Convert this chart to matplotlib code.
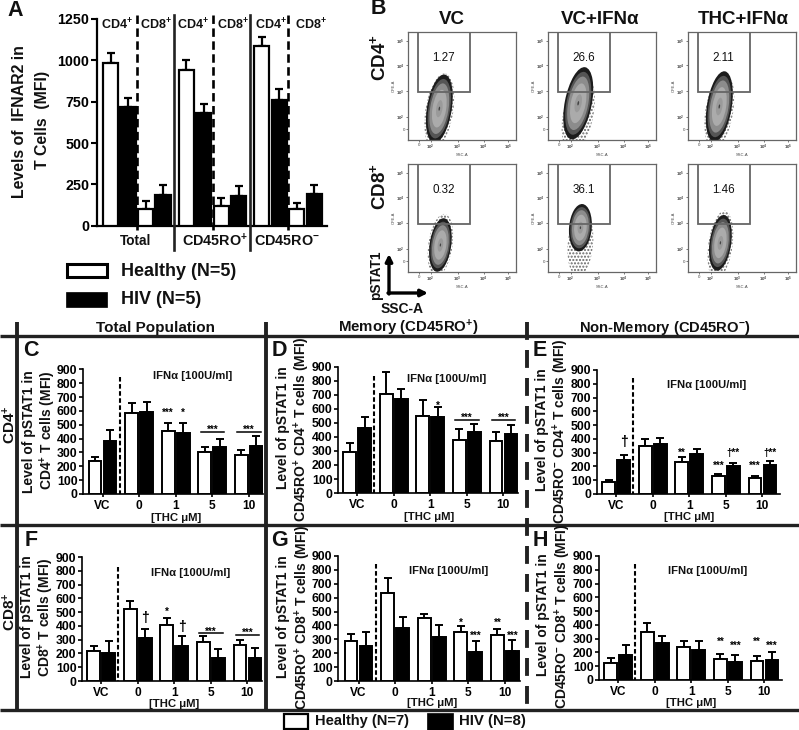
#!/usr/bin/env python3
"""IFNAR2 levels and pSTAT1 responses in T cells: healthy vs HIV, with THC dose series."""
import matplotlib
matplotlib.use("Agg")
import matplotlib.pyplot as plt
from matplotlib.patches import Ellipse, Rectangle
import numpy as np

plt.rcParams["font.family"] = ["Liberation Sans", "DejaVu Sans"]
plt.rcParams["font.weight"] = "bold"
plt.rcParams["mathtext.fontset"] = "custom"
plt.rcParams["mathtext.bf"] = "Liberation Sans:bold"
plt.rcParams["mathtext.rm"] = "Liberation Sans:bold"
plt.rcParams["mathtext.default"] = "bf"

W, H = 799, 730
INK = "#111111"
LINE = "#222222"

# panel A: IFNAR2 MFI, order is CD4/CD8 for Total, CD45RO+, CD45RO-
a_healthy = [985, 100, 940, 120, 1085, 100]
a_healthy_top = [1045, 150, 1005, 170, 1140, 135]
a_hiv = [715, 185, 680, 180, 760, 190]
a_hiv_top = [770, 245, 735, 240, 825, 245]
a_ticks = [0, 250, 500, 750, 1000, 1250]

thc_labels = ["VC", "0", "1", "5", "10"]
mfi_ticks = [0, 100, 200, 300, 400, 500, 600, 700, 800, 900]

# panels C-H: pSTAT1 MFI and the top of each error bar
c_healthy = [235, 585, 455, 305, 285]
c_healthy_top = [270, 660, 515, 340, 315]
c_hiv = [380, 590, 440, 340, 350]
c_hiv_top = [460, 665, 515, 400, 415]

d_healthy = [290, 705, 548, 381, 369]
d_healthy_top = [360, 865, 667, 457, 433]
d_hiv = [465, 674, 540, 435, 424]
d_hiv_top = [545, 740, 612, 493, 488]

e_healthy = [90, 345, 235, 128, 118]
e_healthy_top = [105, 400, 265, 148, 130]
e_hiv = [250, 365, 290, 205, 210]
e_hiv_top = [285, 405, 330, 225, 238]

f_healthy = [220, 520, 410, 285, 260]
f_healthy_top = [255, 580, 460, 325, 300]
f_hiv = [205, 315, 255, 165, 170]
f_hiv_top = [290, 380, 330, 235, 240]

g_healthy = [285, 635, 455, 354, 330]
g_healthy_top = [340, 740, 486, 395, 375]
g_hiv = [255, 383, 318, 206, 218]
g_hiv_top = [350, 462, 404, 287, 294]

h_healthy = [120, 345, 240, 150, 135]
h_healthy_top = [160, 415, 285, 190, 175]
h_hiv = [180, 270, 215, 130, 145]
h_hiv_top = [255, 320, 280, 185, 200]

# significance marks: (dose group, side, MFI height, text)
c_marks = [(2, -1, 585, "***"), (2, 1, 585, "*"), (3, 0, 465, "***"), (4, 0, 465, "***")]
d_marks = [(2, 1, 625, "*"), (3, 0, 540, "***"), (4, 0, 540, "***")]
e_marks = [(0, 1, 380, "†"), (2, -1, 300, "**"), (3, -1, 205, "***"), (3, 1, 300, "†**"),
           (4, -1, 205, "***"), (4, 1, 300, "†**")]
f_marks = [(1, 1, 455, "†"), (2, -1, 505, "*"), (2, 1, 390, "†"), (3, 0, 360, "***"), (4, 0, 350, "***")]
g_marks = [(3, -1, 420, "*"), (3, 1, 325, "***"), (4, -1, 420, "**"), (4, 1, 325, "***")]
h_marks = [(3, -1, 280, "**"), (3, 1, 245, "***"), (4, -1, 275, "**"), (4, 1, 245, "***")]

c_brackets = [(3, 450), (4, 450)]
d_brackets = [(3, 523), (4, 523)]
f_brackets = [(3, 345), (4, 335)]
g_brackets, e_brackets, h_brackets = [], [], []

# panel B: gate percentages and the event cloud shape, row by row
gate_pct = ["1.27", "26.6", "2.11", "0.32", "36.1", "1.46"]
blob_cx = [0.29, 0.28, 0.29, 0.30, 0.30, 0.30]
blob_cy = [0.29, 0.34, 0.31, 0.25, 0.41, 0.27]
blob_w = [0.23, 0.25, 0.23, 0.20, 0.21, 0.20]
blob_h = [0.64, 0.68, 0.66, 0.50, 0.44, 0.52]
blob_tilt = [-9, -11, -9, -8, -5, -8]
tail_cy = [0.27, 0.24, 0.27, 0.25, 0.26, 0.25]
tail_h = [0.70, 0.72, 0.70, 0.58, 0.60, 0.64]
flow_pos = [0.10, 0.21, 0.46, 0.70, 0.93]
flow_labels = ["0", "$10^2$", "$10^3$", "$10^4$", "$10^5$"]

fig = plt.figure(figsize=(W / 100, H / 100), dpi=100, facecolor="white")


def px_axes(left, top, right, bottom, **kw):
    return fig.add_axes([left / W, 1 - bottom / H, (right - left) / W, (bottom - top) / H], **kw)


def pair_bars(ax, x, off, width, healthy, healthy_top, hiv, hiv_top, lw=1.4):
    x = np.asarray(x, dtype=float)
    for xs, vals, tops, col in ((x - off, healthy, healthy_top, "white"), (x + off, hiv, hiv_top, "black")):
        vals, tops = np.asarray(vals), np.asarray(tops)
        ax.errorbar(xs, vals, yerr=[np.zeros(len(vals)), tops - vals], fmt="none", ecolor="black",
                    elinewidth=lw, capsize=3.2, capthick=lw, zorder=2)
        ax.bar(xs, vals, width, color=col, edgecolor="black", linewidth=lw, zorder=3)


# ---- panel A ----
axa = px_axes(97, 19, 327, 225.7)
slot = 17.5
step = 75.6 / slot
# each population holds a CD4 pair and then a CD8 pair
xa = np.array([g * step + s for g in range(3) for s in (0.0, 2.0)])
pair_bars(axa, xa, 0.5, 0.86, a_healthy, a_healthy_top, a_hiv, a_hiv_top, lw=1.6)
axa.set_xlim(-13.5 / slot - 0.5, (327 - 97) / slot - 13.5 / slot - 0.5)
axa.set_ylim(0, 1250)
axa.set_yticks(a_ticks)
axa.set_xticks([])
axa.tick_params(axis="y", labelsize=10.3, width=1.5, length=4, pad=1.5)
axa.spines[["top", "right"]].set_visible(False)
axa.spines[["left", "bottom"]].set_linewidth(1.6)
axa.patch.set_alpha(0)

# ---- panel B ----
flow_left = [408, 548, 688]
flow_top = [32, 164]
for r, top in enumerate(flow_top):
    for c, left in enumerate(flow_left):
        i = r * 3 + c
        ax = px_axes(left, top, left + 108, top + 108)
        ax.set_xlim(0, 1)
        ax.set_ylim(0, 1)
        for s in ax.spines.values():
            s.set_linewidth(0.9)
            s.set_color("#666666")
        ax.set_xticks(flow_pos)
        ax.set_xticklabels(flow_labels, fontsize=3.2, color="#444444", fontweight="normal")
        ax.set_yticks([0.10, 0.21, 0.45, 0.69, 0.92])
        ax.set_yticklabels(flow_labels, fontsize=3.2, color="#444444", fontweight="normal")
        ax.tick_params(width=0.5, length=1.5, pad=0.8, colors="#444444")
        ax.set_xlabel("SSC-A", fontsize=3, labelpad=0.5, color="#444444", fontweight="normal")
        ax.set_ylabel("CFE-A", fontsize=3, labelpad=0.5, color="#444444", fontweight="normal")
        ax.add_patch(Rectangle((0.09, 0.44), 0.48, 0.60, fill=False, edgecolor="#666666", linewidth=1.3, zorder=6))
        ax.text(0.33, 0.755, gate_pct[i], ha="center", va="center", fontsize=8.4, color=INK,
                fontweight="normal", zorder=7)
        cx, cy, bw, bh, tilt = blob_cx[i], blob_cy[i], blob_w[i], blob_h[i], blob_tilt[i]
        # sparse events round the cloud
        ax.add_patch(Ellipse((cx, tail_cy[i]), bw * 1.12, tail_h[i], angle=tilt, facecolor="none",
                             edgecolor="#666666", hatch=".....", linewidth=0, zorder=1))
        for scale, shade in zip((1.0, 0.87, 0.74, 0.55, 0.25, 0.06),
                                ("#1c1c1c", "#555555", "#8c8c8c", "#ababab", "#9a9a9a", "#444444")):
            ax.add_patch(Ellipse((cx, cy), bw * scale, bh * scale, angle=tilt, facecolor=shade,
                                 edgecolor="none", zorder=2))

# ---- panels C-H ----
panels = [
    (83, 369.3, 263, 494, 102.5, 120, 377, c_healthy, c_healthy_top, c_hiv, c_hiv_top, c_marks, c_brackets),
    (338, 367, 518, 493, 357, 374, 376, d_healthy, d_healthy_top, d_hiv, d_hiv_top, d_marks, d_brackets),
    (597, 370, 780, 494, 616, 633, 378, e_healthy, e_healthy_top, e_hiv, e_hiv_top, e_marks, e_brackets),
    (82, 557, 262, 681, 101, 118, 567, f_healthy, f_healthy_top, f_hiv, f_hiv_top, f_marks, f_brackets),
    (338, 556, 520, 681, 358.5, 376, 564, g_healthy, g_healthy_top, g_hiv, g_hiv_top, g_marks, g_brackets),
    (599, 556, 782, 680, 618, 635, 564, h_healthy, h_healthy_top, h_hiv, h_hiv_top, h_marks, h_brackets),
]
group_step = 36.6
dash_specs = []
for left, top, right, bottom, first, dash_x, dash_top, he, he_t, hv, hv_t, marks, brackets in panels:
    ax = px_axes(left, top, right, bottom)
    ax.set_xlim((left - first) / group_step, (right - first) / group_step)
    ax.set_ylim(0, 900)
    groups = np.arange(len(thc_labels))
    pair_bars(ax, groups, 7.5 / group_step, 12.8 / group_step, he, he_t, hv, hv_t)
    ax.set_xticks(groups)
    ax.set_xticklabels(thc_labels, fontsize=8.6)
    ax.set_yticks(mfi_ticks)
    ax.tick_params(axis="y", labelsize=8.8, width=1.2, length=3, pad=1)
    ax.tick_params(axis="x", width=1.2, length=2.5, pad=1.5)
    ax.spines[["top", "right"]].set_visible(False)
    ax.spines[["left", "bottom"]].set_linewidth(1.2)
    ax.patch.set_alpha(0)
    for g, side, val, mark in marks:
        size = 10 if mark == "†" else 7
        ax.text(g + side * 7.5 / group_step, val, mark, ha="center", va="center", fontsize=size, zorder=5)
    for g, val in brackets:
        ax.plot([g - 0.32, g + 0.32], [val, val], color="black", lw=1.1, zorder=5)
    dash_specs.append((dash_x, dash_top, bottom))

# ---- everything placed by hand on a full-figure overlay ----
ov = fig.add_axes([0, 0, 1, 1], zorder=10)
ov.set_xlim(0, W)
ov.set_ylim(H, 0)
ov.axis("off")


def txt(x, y, s, size, rot=0, **kw):
    kw.setdefault("color", INK)
    ov.text(x, y, s, fontsize=size, rotation=rot, ha=kw.pop("ha", "center"), va=kw.pop("va", "center"), **kw)


for x, top, bottom in dash_specs:
    ov.plot([x, x], [top, bottom], color="black", lw=1.5, dashes=(2.2, 1.2))

# panel A dividers and labels
for x in (174, 250):
    ov.plot([x, x], [15, 250], color=LINE, lw=1.9)
for x in (137, 213, 288):
    ov.plot([x, x], [15, 230], color="black", lw=1.9, dashes=(3.2, 1.7))
for x, s in zip((116.5, 156, 192.5, 232.5, 270.5, 311), ("CD4", "CD8", "CD4", "CD8", "CD4", "CD8")):
    txt(x, 25, s + "$^{+}$", 9)
txt(136, 241, "Total", 9.8)
txt(215, 241, "CD45RO$^{+}$", 10.4)
txt(287, 241, "CD45RO$^{-}$", 10.4)
txt(20, 122, "Levels of  IFNAR2 in", 11.4, 90)
txt(43, 120, "T Cells  (MFI)", 11.4, 90)
ov.add_patch(Rectangle((67, 263.5), 40, 13.5, facecolor="white", edgecolor="black", lw=2.2))
ov.add_patch(Rectangle((66, 292), 41, 15, facecolor="black", edgecolor="black", lw=0.5))
txt(121, 271, "Healthy (N=5)", 13, ha="left")
txt(121, 300, "HIV (N=5)", 13, ha="left")

# panel B titles and arrows
txt(452, 20, "VC", 13.5)
txt(600, 20, "VC+IFNα", 13.5)
txt(743, 20, "THC+IFNα", 13.5)
txt(379, 58, "CD4$^{+}$", 13.5, 90)
txt(379, 187, "CD8$^{+}$", 13.5, 90)
ov.annotate("", xy=(389, 254), xytext=(389, 294), arrowprops=dict(arrowstyle="-|>", color="black", lw=2.4, shrinkA=0, shrinkB=0))
ov.annotate("", xy=(428, 293), xytext=(388, 293), arrowprops=dict(arrowstyle="-|>", color="black", lw=2.4, shrinkA=0, shrinkB=0))
txt(376, 275, "pSTAT1", 9.8, 90)
txt(402, 309, "SSC-A", 10)

# grid of the lower block
for y in (336, 525, 710):
    ov.plot([0, W], [y, y], color=LINE, lw=2.4, solid_capstyle="butt")
ov.plot([17, 17], [322, 710], color=LINE, lw=2.8, solid_capstyle="butt")
ov.plot([266, 266], [322, 710], color=LINE, lw=2.8, solid_capstyle="butt")
ov.plot([527, 527], [322, 710], color=LINE, lw=2.8, dashes=(4.6, 2.6))
txt(155, 328, "Total Population", 11)
txt(408, 328, "Memory (CD45RO$^{+}$)", 10.8)
txt(665, 328, "Non-Memory (CD45RO$^{-}$)", 10.6)
txt(10, 425, "CD4$^{+}$", 11, 90)
txt(10, 612, "CD8$^{+}$", 11, 90)

for x, y, s in ((15, 10, "A"), (378, 9, "B"), (31, 350, "C"), (279, 350, "D"), (540, 350, "E"),
                (31, 540, "F"), (279, 540, "G"), (540, 540, "H")):
    txt(x, y, s, 15.5)

# lower panel axis titles
titles = [
    (29, 432, "Level of pSTAT1 in", 48, 430, "CD4$^{+}$ T cells (MFI)"),
    (283, 428, "Level of pSTAT1 in", 302, 429, "CD45RO$^{+}$ CD4$^{+}$ T cells (MFI)"),
    (542, 430, "Level of pSTAT1 in", 561, 431, "CD45RO$^{-}$ CD4$^{+}$ T cells (MFI)"),
    (27, 617, "Level of pSTAT1 in", 46, 617, "CD8$^{+}$ T cells (MFI)"),
    (283, 617, "Level of pSTAT1 in", 303, 617, "CD45RO$^{+}$ CD8$^{+}$ T cells (MFI)"),
    (543, 615, "Level of pSTAT1 in", 563, 616, "CD45RO$^{-}$ CD8$^{+}$ T cells (MFI)"),
]
for x1, y1, s1, x2, y2, s2 in titles:
    txt(x1, y1, s1, 10, 90)
    txt(x2, y2, s2, 10, 90)

for x, y in ((193, 376), (447, 379), (707, 385), (191, 573), (449, 571), (708, 571)):
    txt(x, y, "IFNα [100U/ml]", 8.1)
for x, y in ((176, 518), (429, 517), (689, 517), (174, 704), (432, 703), (691, 703)):
    txt(x, y, "[THC μM]", 8.2)

ov.add_patch(Rectangle((284, 714), 24, 15, facecolor="white", edgecolor="black", lw=1.6))
ov.add_patch(Rectangle((427, 713), 26, 17, facecolor="black", edgecolor="black", lw=0.5))
txt(315, 721, "Healthy (N=7)", 10.5, ha="left")
txt(459, 721, "HIV (N=8)", 10.8, ha="left")

fig.savefig("out.png", dpi=100)
